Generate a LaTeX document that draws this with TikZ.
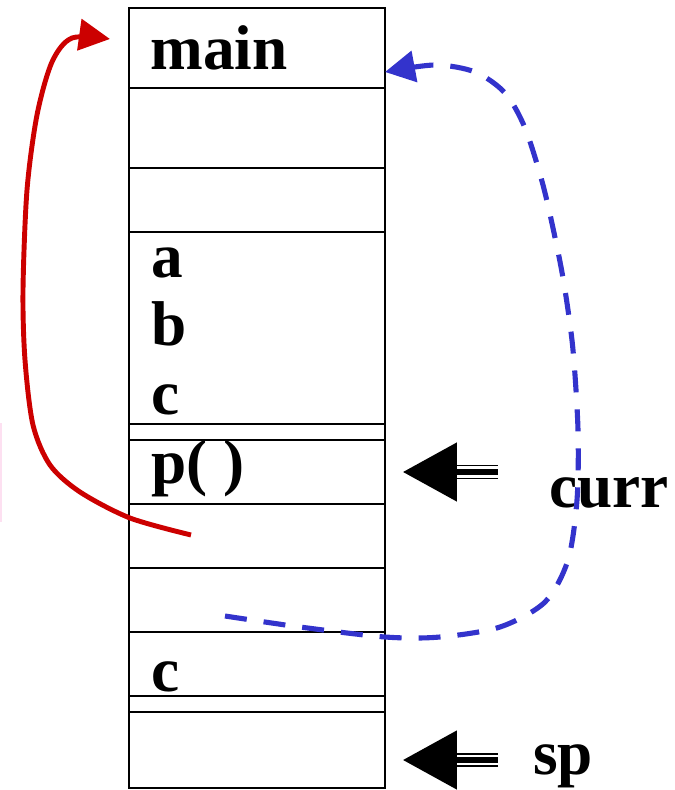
\documentclass[tikz,border=0pt]{standalone}
\usepackage{fontspec}
\setmainfont{Liberation Serif}
\usepackage{xcolor}
\usetikzlibrary{arrows.meta}
\definecolor{callred}{HTML}{CC0000}
\definecolor{linkblue}{HTML}{3333CC}

\begin{document}
\begin{tikzpicture}[x=0.02cm,y=-0.02cm,
  cell/.style={line width=1.1pt},
  lbl/.style={anchor=base west,inner sep=0pt,font=\fontsize{36}{36}\selectfont\bfseries},
  ptr/.style={line width=0.29cm,-{Triangle[length=1.1cm,width=1.1cm]}},
  gap/.style={white,line width=0.05cm}]
\useasboundingbox (0,0) rectangle (675,790);
% stack frame
\draw[cell] (129,8) rectangle (385,788);
\foreach \y in {88,168,232,424,440,504,568,632,696,712}
  \draw[cell] (129,\y) -- (385,\y);
% frame contents
\node[lbl] (main) at (150,70) {main};
\node[lbl] (va) at (151,277) {a};
\node[lbl] (vb) at (151,345) {b};
\node[lbl] (vc) at (151,414) {c};
\node[lbl] (pcall) at (151,483) {p( )};
\node[lbl] (vc2) at (151,691) {c};
\coordinate (mainin) at (385,72);
\coordinate (mainret) at (110,39);
\coordinate (retfrom) at (191,535);
\coordinate (linkfrom) at (225,616);
% pointers
\node[lbl] (curr) at (549,507) {curr};
\node[lbl] (sp) at (533,774) {sp};
\coordinate (currtip) at (402,472);
\coordinate (sptip) at (402,760);
\draw[ptr] (498,472) -- (currtip);
\draw[ptr] (498,760) -- (sptip);
\foreach \y in {467.7,476.3,756.2,763.8}
  \draw[gap] (457,\y) -- (499,\y);
% return link
\draw[callred,line width=2.8pt,-{Triangle[length=0.62cm,width=0.62cm]}]
  plot[smooth] coordinates {(retfrom) (130,518) (80,492) (50,465) (33,425) (25,360) (23,290) (27,190) (37,115) (52,62) (72,38) (mainret)};
% dynamic link
\draw[linkblue,line width=2.9pt,dash pattern=on 0.44cm off 0.34cm,-{Triangle[length=0.6cm,width=0.62cm]}]
  plot[smooth] coordinates {(linkfrom) (300,627) (385,637) (440,637) (500,627) (545,602) (568,560) (577,500) (578,430) (573,350) (565,290) (557,247) (543,185) (525,128) (505,93) (475,72) (435,65) (mainin)};
% stray mark at left edge
\draw[magenta!12,line width=0.6pt] (1,423) -- (1,522);
\end{tikzpicture}
\end{document}
